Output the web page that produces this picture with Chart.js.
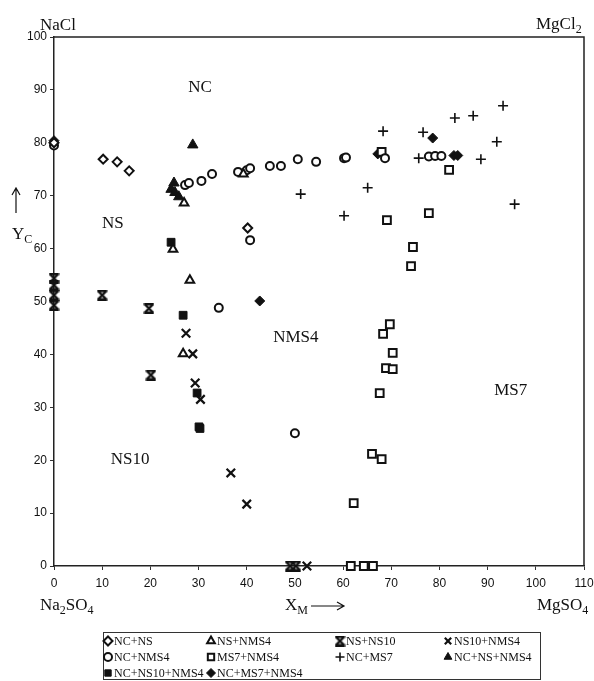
<!DOCTYPE html>
<html>
<head>
<meta charset="utf-8">
<script src="https://cdn.jsdelivr.net/npm/chart.js@4/dist/chart.umd.min.js"></script>
<style>
  html, body { margin: 0; padding: 0; background: #fff; }
  #wrap { position: relative; width: 594px; height: 681px; }
</style>
</head>
<body>
<div id="wrap"><canvas id="phaseChart"></canvas></div>
<script>
// Phase diagram points, X_M (MgSO4) vs Y_C (NaCl)
const ncNsX = [0, 10.2, 13.1, 15.6, 40.2];
const ncNsY = [80, 76.9, 76.4, 74.7, 63.9];

const ncNms4X = [0, 27.2, 28.0, 30.6, 32.8, 38.2, 40.0, 40.7, 44.8, 47.1, 50.6, 54.4, 60.2, 60.6, 68.7, 77.8, 79.1, 80.4, 40.7, 34.2, 50.0];
const ncNms4Y = [79.5, 72.0, 72.4, 72.8, 74.1, 74.5, 74.8, 75.2, 75.6, 75.6, 76.9, 76.4, 77.1, 77.2, 77.1, 77.4, 77.5, 77.5, 61.6, 48.8, 25.1];

const nsNms4X = [27.0, 24.7, 28.2, 26.8, 39.3];
const nsNms4Y = [68.6, 59.9, 54.0, 40.1, 74.1];

const nsNs10X = [0, 0, 0, 0, 10.0, 19.7, 20.1, 49.0, 50.2];
const nsNs10Y = [49.3, 51.2, 53.1, 54.4, 51.2, 48.7, 36.1, 0, 0];

const ns10Nms4X = [27.4, 28.8, 29.3, 30.4, 36.7, 40.0, 52.5];
const ns10Nms4Y = [44.0, 40.1, 34.6, 31.5, 17.6, 11.7, 0];

const ms7Nms4X = [68.0, 82.0, 69.1, 77.8, 74.5, 74.1, 69.7, 68.3, 70.3, 68.9, 70.3, 67.6, 66.0, 68.0, 62.2, 61.6, 64.3, 66.2];
const ms7Nms4Y = [78.3, 74.9, 65.4, 66.7, 60.3, 56.7, 45.7, 43.9, 40.3, 37.4, 37.2, 32.7, 21.2, 20.2, 11.9, 0, 0, 0];

const ncMs7X = [51.2, 65.1, 68.3, 76.6, 83.2, 87.0, 93.2, 75.7, 88.6, 91.9, 95.6, 60.2];
const ncMs7Y = [70.3, 71.5, 82.2, 82.0, 84.7, 85.1, 87.0, 77.1, 76.9, 80.2, 68.4, 66.2];

const ncNsNms4X = [28.8, 24.9, 24.3, 25.1, 25.9];
const ncNsNms4Y = [79.6, 72.4, 71.2, 70.6, 69.8];

const ncNs10Nms4X = [24.3, 26.8, 29.7, 30.1, 30.3];
const ncNs10Nms4Y = [61.2, 47.4, 32.7, 26.3, 26.0];

const ncMs7Nms4X = [0, 42.7, 67.2, 78.6, 83.0, 83.8];
const ncMs7Nms4Y = [80.4, 50.1, 77.9, 80.9, 77.6, 77.6];

const xTicks = [0, 10, 20, 30, 40, 50, 60, 70, 80, 90, 100, 110];
const yTicks = [0, 10, 20, 30, 40, 50, 60, 70, 80, 90, 100];

// field names written inside the diagram
const fieldNames = ['NC', 'NS', 'NMS4', 'MS7', 'NS10'];
const fieldX = [30.3, 12.2, 50.2, 94.8, 15.8];
const fieldY = [90.4, 64.8, 43.1, 33.1, 20.2];

const INK = '#111';

function zip(xs, ys) {
    return xs.map((x, i) => ({ x: x, y: ys[i] }));
}

// hourglass marker (X capped top and bottom) - not a built-in point style
function hourglass(size) {
    const c = document.createElement('canvas');
    c.width = size;
    c.height = size;
    const g = c.getContext('2d');
    g.strokeStyle = INK;
    g.lineWidth = 2.4;
    g.beginPath();
    g.moveTo(1.5, 1.5); g.lineTo(size - 1.5, size - 1.5);
    g.moveTo(size - 1.5, 1.5); g.lineTo(1.5, size - 1.5);
    g.moveTo(0.5, 1.2); g.lineTo(size - 0.5, 1.2);
    g.moveTo(0.5, size - 1.2); g.lineTo(size - 0.5, size - 1.2);
    g.stroke();
    return c;
}

function series(label, xs, ys, style, radius, filled, width) {
    return {
        label: label,
        data: zip(xs, ys),
        pointStyle: style,
        pointRadius: radius,
        pointBorderWidth: width || 2,
        borderColor: INK,
        backgroundColor: filled ? INK : '#fff',
        pointBackgroundColor: filled ? INK : '#fff',
        pointBorderColor: INK,
        showLine: false,
        clip: false
    };
}

const datasets = [
    series('NC+NS', ncNsX, ncNsY, 'rectRot', 4.5, false),
    series('NS+NMS4', nsNms4X, nsNms4Y, 'triangle', 5, false),
    series('NS+NS10', nsNs10X, nsNs10Y, hourglass(11), 5, false),
    series('NS10+NMS4', ns10Nms4X, ns10Nms4Y, 'crossRot', 6, false, 2.2),
    series('NC+NMS4', ncNms4X, ncNms4Y, 'circle', 4, false),
    series('MS7+NMS4', ms7Nms4X, ms7Nms4Y, 'rect', 5.5, false),
    series('NC+MS7', ncMs7X, ncMs7Y, 'cross', 5, false, 1.6),
    series('NC+NS+NMS4', ncNsNms4X, ncNsNms4Y, 'triangle', 6, true, 1),
    series('NC+NS10+NMS4', ncNs10Nms4X, ncNs10Nms4Y, 'rect', 5.5, true, 1),
    series('NC+MS7+NMS4', ncMs7Nms4X, ncMs7Nms4Y, 'rectRot', 5, true, 1)
];

// text with subscript parts, e.g. MgCl + 2
function subText(ctx, parts, x, y, size) {
    let cx = x;
    parts.forEach(p => {
        ctx.font = (p.sub ? Math.round(size * 0.7) : size) + 'px "Liberation Serif", serif';
        ctx.fillText(p.t, cx, p.sub ? y + size * 0.25 : y);
        cx += ctx.measureText(p.t).width;
    });
}

const decorations = {
    id: 'decorations',
    afterDraw(chart) {
        const ctx = chart.ctx;
        const a = chart.chartArea;
        const xs = chart.scales.x;
        const ys = chart.scales.y;
        ctx.save();

        // top and right frame
        ctx.strokeStyle = '#222';
        ctx.lineWidth = 1.5;
        ctx.beginPath();
        ctx.moveTo(a.left, a.top);
        ctx.lineTo(a.right, a.top);
        ctx.lineTo(a.right, a.bottom);
        ctx.stroke();

        ctx.fillStyle = INK;

        // field names
        ctx.font = '17px "Liberation Serif", serif';
        ctx.textAlign = 'center';
        ctx.textBaseline = 'middle';
        fieldNames.forEach((name, i) => {
            ctx.fillText(name, xs.getPixelForValue(fieldX[i]), ys.getPixelForValue(fieldY[i]));
        });

        // corner components
        ctx.textAlign = 'left';
        ctx.textBaseline = 'alphabetic';
        subText(ctx, [{ t: 'NaCl' }], 40, 30, 17);
        subText(ctx, [{ t: 'MgCl' }, { t: '2', sub: true }], 536, 29, 17);
        subText(ctx, [{ t: 'Na' }, { t: '2', sub: true }, { t: 'SO' }, { t: '4', sub: true }], 40, 610, 17);
        subText(ctx, [{ t: 'MgSO' }, { t: '4', sub: true }], 537, 610, 17);

        // axis names
        subText(ctx, [{ t: 'X' }, { t: 'M', sub: true }], 285, 610, 17);
        subText(ctx, [{ t: 'Y' }, { t: 'C', sub: true }], 12, 239, 17);

        ctx.strokeStyle = INK;
        ctx.lineWidth = 1.2;
        ctx.beginPath();
        // right arrow after X_M
        ctx.moveTo(311, 606); ctx.lineTo(344, 606);
        ctx.moveTo(337, 602); ctx.lineTo(344, 606); ctx.lineTo(337, 610);
        // up arrow above Y_C
        ctx.moveTo(16, 213); ctx.lineTo(16, 188);
        ctx.moveTo(12, 195); ctx.lineTo(16, 188); ctx.lineTo(20, 195);
        ctx.stroke();

        // legend box
        const cols = [108, 211, 340, 448];
        const rows = [641, 657, 673];
        ctx.lineWidth = 1;
        ctx.strokeStyle = '#333';
        ctx.strokeRect(103.5, 632.5, 437, 47);
        ctx.font = '12px "Liberation Serif", serif';
        ctx.textBaseline = 'middle';
        chart.data.datasets.forEach((ds, i) => {
            const cx = cols[i % 4];
            const cy = rows[Math.floor(i / 4)];
            ctx.fillStyle = ds.pointBackgroundColor;
            ctx.strokeStyle = INK;
            ctx.lineWidth = ds.pointBorderWidth;
            Chart.helpers.drawPoint(ctx, {
                pointStyle: ds.pointStyle,
                radius: Math.min(ds.pointRadius, 4.5),
                borderWidth: ds.pointBorderWidth,
                rotation: 0
            }, cx, cy);
            ctx.fillStyle = INK;
            ctx.fillText(ds.label, cx + 6, cy + 1);
        });
        ctx.restore();
    }
};

new Chart(document.getElementById('phaseChart'), {
    type: 'scatter',
    data: { datasets },
    options: {
        responsive: true,
        maintainAspectRatio: false,
        animation: false,
        layout: { padding: { left: 0, right: 10, top: 37, bottom: 90 } },
        plugins: {
            legend: { display: false },
            tooltip: { enabled: false }
        },
        scales: {
            x: {
                type: 'linear',
                min: 0,
                max: 110,
                afterBuildTicks: s => { s.ticks = xTicks.map(v => ({ value: v })); },
                afterFit: s => { s.height = 25; s.paddingLeft = 0; s.paddingRight = 0; },
                grid: { drawOnChartArea: false, drawTicks: true, tickLength: 4, color: '#333' },
                border: { display: true, color: '#222', width: 1.5 },
                ticks: {
                    padding: 6,
                    color: '#111',
                    maxRotation: 0,
                    font: { family: '"Liberation Sans", Arial, sans-serif', size: 12 }
                }
            },
            y: {
                type: 'linear',
                min: 0,
                max: 100,
                afterBuildTicks: s => { s.ticks = yTicks.map(v => ({ value: v })); },
                afterFit: s => { s.width = 54; s.paddingTop = 0; s.paddingBottom = 0; },
                grid: { drawOnChartArea: false, drawTicks: true, tickLength: 4, color: '#333' },
                border: { display: true, color: '#222', width: 1.5 },
                ticks: {
                    padding: 3,
                    color: '#111',
                    font: { family: '"Liberation Sans", Arial, sans-serif', size: 12 }
                }
            }
        }
    },
    plugins: [decorations]
});
</script>
</body>
</html>
